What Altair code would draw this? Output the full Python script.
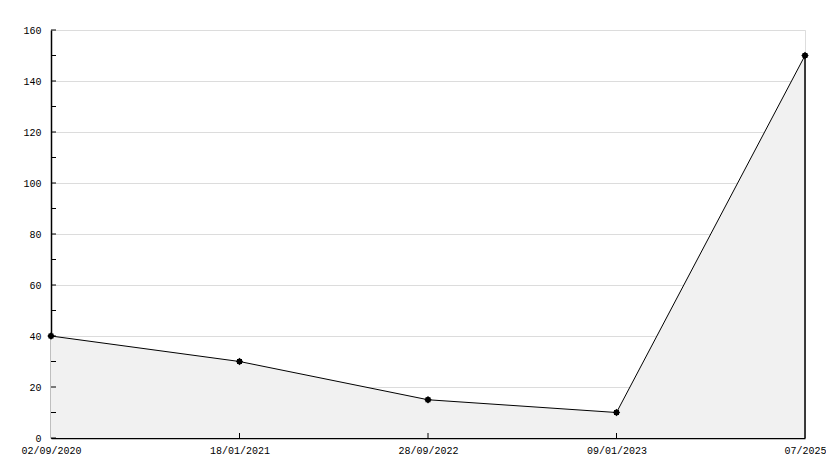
import altair as alt
import pandas as pd

dates = ["02/09/2020", "18/01/2021", "28/09/2022", "09/01/2023", "07/2025"]
values = [40, 30, 15, 10, 150]
y_ticks = [0, 10, 20, 30, 40, 50, 60, 70, 80, 90, 100, 110, 120, 130, 140, 150, 160]
y_labels = [0, 20, 40, 60, 80, 100, 120, 140, 160]

W, H = 754, 408
FONT = "Liberation Mono"

df = pd.DataFrame({"date": dates, "value": values})
df_last = df.iloc[[-1]]
df_inner = df.iloc[1:-1]
df_yt = pd.DataFrame({"t": y_ticks})

xs = alt.X("date:N", sort=dates,
           scale=alt.Scale(type="point", padding=0),
           axis=alt.Axis(title=None, labelAngle=0, tickSize=0, labelPadding=7,
                         domainColor="black", domainWidth=1.5, grid=False,
                         labelFont=FONT, labelFontSize=10, labelColor="black"))
ys = alt.Y("value:Q", scale=alt.Scale(domain=[0, 160], nice=False),
           axis=alt.Axis(title=None, values=y_labels, tickSize=0, labelPadding=10,
                         domainColor="black", domainWidth=1.5,
                         grid=True, gridColor="#dcdcdc", gridWidth=1,
                         labelFont=FONT, labelFontSize=10, labelColor="black"))

base = alt.Chart(df)
area = base.mark_area(color="#f1f1f1", opacity=1).encode(x=xs, y=ys)
line = base.mark_line(color="black", strokeWidth=1).encode(
    x=alt.X("date:N", sort=dates), y="value:Q")
drop = alt.Chart(df_last).mark_rule(color="black", strokeWidth=1.5).encode(
    x=alt.X("date:N", sort=dates), y="value:Q", y2=alt.datum(0))
xt = alt.Chart(df_inner).mark_rule(color="black", strokeWidth=1).encode(
    x=alt.X("date:N", sort=dates), y=alt.value(H), y2=alt.value(H - 5))
yt = alt.Chart(df_yt).mark_rule(color="black", strokeWidth=1).encode(
    y=alt.Y("t:Q"), x=alt.value(0), x2=alt.value(5))
pts1 = base.mark_point(shape="square", filled=True, color="black", size=25, opacity=1).encode(
    x=alt.X("date:N", sort=dates), y="value:Q")
pts2 = base.mark_point(shape="diamond", filled=True, color="black", size=55, opacity=1).encode(
    x=alt.X("date:N", sort=dates), y="value:Q")

chart = alt.layer(area, line, drop, xt, yt, pts1, pts2).properties(
    width=W, height=H,
    autosize=alt.AutoSizeParams(type="none"),
    padding={"left": 43, "top": 22, "right": 21, "bottom": 22},
).configure_view(stroke=None).configure(background="white")

chart.save("out.html", embed_options={"renderer": "svg", "actions": False})
